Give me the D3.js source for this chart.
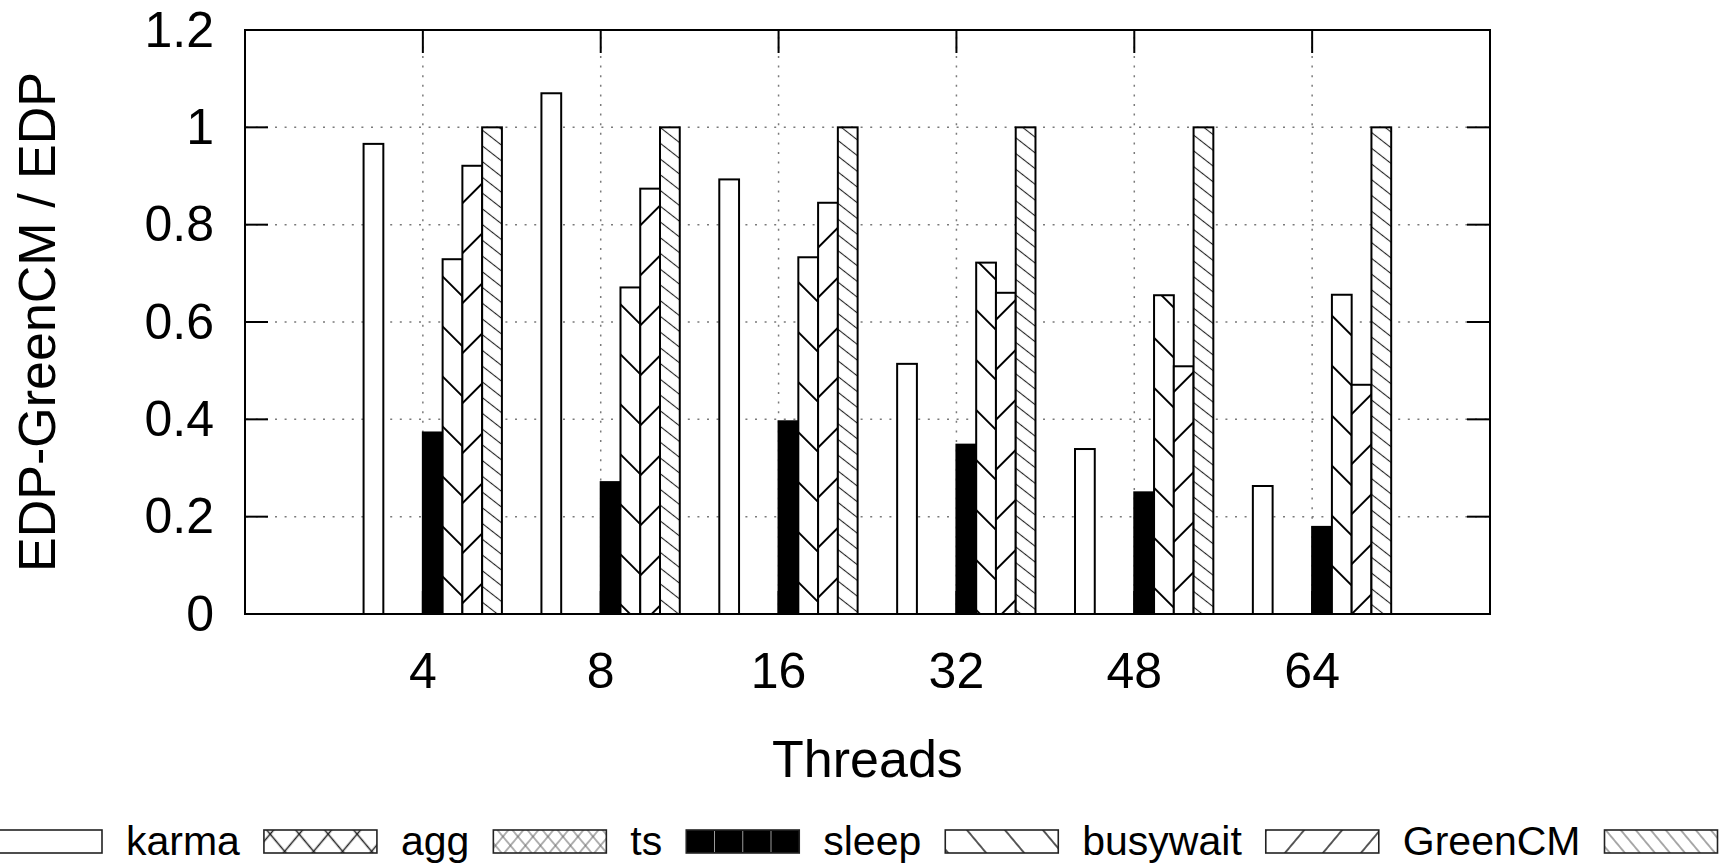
<!DOCTYPE html>
<html>
<head>
<meta charset="utf-8">
<script src="https://cdn.jsdelivr.net/npm/d3@7"></script>
<style>
  html, body { margin: 0; padding: 0; background: #fff; overflow: hidden; }
  svg { display: block; }
  text { font-family: "Liberation Sans", Arial, Helvetica, sans-serif; fill: #000; }
</style>
</head>
<body>
<svg id="chart" width="1724" height="865"></svg>
<script>
// ---- data ----------------------------------------------------------------
const threads = ["4", "8", "16", "32", "48", "64"];
const yTicks = [0, 0.2, 0.4, 0.6, 0.8, 1, 1.2];

// key text for each series, in cluster order (the first one's text sits left of the page edge)
const seriesLabels = [null, "karma", "agg", "ts", "sleep", "busywait", "GreenCM"];

// one array per series, values per thread count (null = no bar)
const firstSeries = [0.966, 1.070, 0.893, 0.514, 0.339, 0.263];
const karma       = [null, null, null, null, null, null];
const agg         = [null, null, null, null, null, null];
const ts          = [0.373, 0.271, 0.396, 0.348, 0.250, 0.179];
const sleep       = [0.729, 0.671, 0.733, 0.722, 0.655, 0.656];
const busywait    = [0.921, 0.874, 0.845, 0.660, 0.509, 0.471];
const greenCM     = [1.0, 1.0, 1.0, 1.0, 1.0, 1.0];

const seriesValues = [firstSeries, karma, agg, ts, sleep, busywait, greenCM];

// ---- layout --------------------------------------------------------------
const frame = { left: 245, right: 1490, top: 30, bottom: 614 };
const nSeries = seriesValues.length;
const slots = nSeries + 2;          // bars per cluster plus gap

const svg = d3.select("#chart");
const defs = svg.append("defs");

const x = d3.scaleLinear().domain([-1, threads.length]).range([frame.left, frame.right]);
const y = d3.scaleLinear().domain([0, 1.2]).range([frame.bottom, frame.top]);

// ---- hatch patterns --------------------------------------------------------
function hatch(id, angle, spacing, sw, color, offset) {
  const p = defs.append("pattern")
    .attr("id", id)
    .attr("patternUnits", "userSpaceOnUse")
    .attr("width", 20)
    .attr("height", spacing)
    .attr("y", offset - spacing / 2)
    .attr("patternTransform", `rotate(${angle})`);
  p.append("line")
    .attr("x1", -2).attr("x2", 22)
    .attr("y1", spacing / 2).attr("y2", spacing / 2)
    .attr("stroke", color).attr("stroke-width", sw);
}
// bar fills
hatch("barBack", 45, 35.36, 2, "#000", 24.0);
hatch("barFwd", -45, 35.36, 2, "#000", 11.0);
hatch("barBackFine", 38, 12.4, 1.1, "#222", 4);
hatch("barCrossA", 50, 22.2, 1.5, "#111", 18.4);
hatch("barCrossB", -50, 22.2, 1.5, "#111", 10.5);
hatch("barFineA", 50, 11.5, 1, "#555", 3);
hatch("barFineB", -50, 11.5, 1, "#555", 3);
// key sample fills
hatch("keyCrossA", 50, 22.2, 1.5, "#222", 18.4);
hatch("keyCrossB", -50, 22.2, 1.5, "#222", 10.5);
hatch("keyFineA", 50, 11.5, 1, "#666", 3);
hatch("keyFineB", -50, 11.5, 1, "#666", 3);
hatch("keyBack", 50, 29.1, 1.5, "#222", 25.6);
hatch("keyFwd", -50, 29.1, 1.5, "#222", 19.4);
hatch("keyBackFine", 50, 11.5, 1, "#555", 5);

// fill style per series: base colour + overlay patterns
const barStyles = [
  { base: "#fff", over: [] },
  { base: "#fff", over: ["barCrossA", "barCrossB"] },
  { base: "#fff", over: ["barFineA", "barFineB"] },
  { base: "#000", over: [] },
  { base: "#fff", over: ["barBack"] },
  { base: "#fff", over: ["barFwd"] },
  { base: "#fff", over: ["barBackFine"] }
];
const keyStyles = [
  { base: "#fff", over: [] },
  { base: "#fff", over: ["keyCrossA", "keyCrossB"] },
  { base: "#fff", over: ["keyFineA", "keyFineB"] },
  { base: "#000", over: [], dividers: true },
  { base: "#fff", over: ["keyBack"] },
  { base: "#fff", over: ["keyFwd"] },
  { base: "#fff", over: ["keyBackFine"] }
];

// ---- grid ------------------------------------------------------------------
const grid = svg.append("g").attr("stroke", "#7a7a7a").attr("stroke-width", 1.5)
  .attr("stroke-dasharray", "2,7.6");
grid.selectAll("line.h").data(yTicks.filter(v => v > 0 && v < 1.2)).join("line")
  .attr("class", "h")
  .attr("x1", frame.left).attr("x2", frame.right)
  .attr("y1", d => y(d)).attr("y2", d => y(d))
  .attr("stroke-dashoffset", -30);
grid.selectAll("line.v").data(threads).join("line")
  .attr("class", "v")
  .attr("x1", (d, i) => x(i)).attr("x2", (d, i) => x(i))
  .attr("y1", frame.bottom).attr("y2", frame.top)
  .attr("stroke-dashoffset", -28);

// ---- tick marks (inward, mirrored) ----------------------------------------
const tickLen = 23;
const ticks = svg.append("g").attr("stroke", "#000").attr("stroke-width", 2);
yTicks.forEach(v => {
  ticks.append("line").attr("x1", frame.left).attr("x2", frame.left + tickLen)
    .attr("y1", y(v)).attr("y2", y(v));
  ticks.append("line").attr("x1", frame.right).attr("x2", frame.right - tickLen)
    .attr("y1", y(v)).attr("y2", y(v));
});
threads.forEach((t, i) => {
  ticks.append("line").attr("x1", x(i)).attr("x2", x(i))
    .attr("y1", frame.bottom).attr("y2", frame.bottom - tickLen);
  ticks.append("line").attr("x1", x(i)).attr("x2", x(i))
    .attr("y1", frame.top).attr("y2", frame.top + tickLen);
});

// ---- bars ------------------------------------------------------------------
const bars = [];
seriesValues.forEach((vals, s) => {
  vals.forEach((v, i) => {
    if (v == null) return;
    bars.push({ s, i, v });
  });
});
const barG = svg.append("g");
bars.forEach(b => {
  const x0 = x(b.i + (b.s - 3) / slots);
  const x1 = x(b.i + (b.s - 2) / slots);
  const st = barStyles[b.s];
  const g = barG.append("g");
  g.append("rect").attr("x", x0).attr("y", y(b.v))
    .attr("width", x1 - x0).attr("height", y(0) - y(b.v))
    .attr("fill", st.base);
  st.over.forEach(pid => {
    g.append("rect").attr("x", x0).attr("y", y(b.v))
      .attr("width", x1 - x0).attr("height", y(0) - y(b.v))
      .attr("fill", `url(#${pid})`);
  });
  g.append("rect").attr("x", x0).attr("y", y(b.v))
    .attr("width", x1 - x0).attr("height", y(0) - y(b.v))
    .attr("fill", "none").attr("stroke", "#000").attr("stroke-width", 2);
});

// ---- frame -----------------------------------------------------------------
svg.append("rect")
  .attr("x", frame.left).attr("y", frame.top)
  .attr("width", frame.right - frame.left).attr("height", frame.bottom - frame.top)
  .attr("fill", "none").attr("stroke", "#000").attr("stroke-width", 2);

// ---- tick labels -------------------------------------------------------------
const fmt = v => (v === 0 || v === 1) ? String(v) : d3.format(".1f")(v);
svg.append("g").selectAll("text").data(yTicks).join("text")
  .attr("x", 214).attr("y", d => y(d) + 16.5)
  .attr("text-anchor", "end")
  .style("font-size", "50px")
  .text(fmt);

svg.append("g").selectAll("text").data(threads).join("text")
  .attr("x", (d, i) => x(i)).attr("y", 688)
  .attr("text-anchor", "middle")
  .style("font-size", "50px")
  .text(d => d);

// ---- axis titles -------------------------------------------------------------
svg.append("text")
  .attr("x", (frame.left + frame.right) / 2).attr("y", 777)
  .attr("text-anchor", "middle")
  .style("font-size", "52px")
  .text("Threads");

svg.append("text")
  .attr("transform", `translate(55,${(frame.top + frame.bottom) / 2}) rotate(-90)`)
  .attr("text-anchor", "middle")
  .style("font-size", "52px")
  .text("EDP-GreenCM / EDP");

// ---- key -------------------------------------------------------------------
const key = svg.append("g");
const boxW = 113, boxTop = 830, boxH = 23, gap = 24, keyBaseline = 855;
let cursor = -11;
seriesLabels.forEach((label, s) => {
  if (label) {
    const t = key.append("text")
      .attr("x", cursor).attr("y", keyBaseline)
      .style("font-size", "41px")
      .text(label);
    cursor += t.node().getComputedTextLength() + gap;
  }
  const st = keyStyles[s];
  key.append("rect").attr("x", cursor).attr("y", boxTop)
    .attr("width", boxW).attr("height", boxH).attr("fill", st.base);
  st.over.forEach(pid => {
    key.append("rect").attr("x", cursor).attr("y", boxTop)
      .attr("width", boxW).attr("height", boxH).attr("fill", `url(#${pid})`);
  });
  if (st.dividers) {
    [1, 2, 3].forEach(q => {
      key.append("line")
        .attr("x1", cursor + boxW * q / 4).attr("x2", cursor + boxW * q / 4)
        .attr("y1", boxTop + 1).attr("y2", boxTop + boxH - 1)
        .attr("stroke", "#9a9a9a").attr("stroke-width", 1);
    });
  }
  key.append("rect").attr("x", cursor).attr("y", boxTop)
    .attr("width", boxW).attr("height", boxH)
    .attr("fill", "none").attr("stroke", "#222").attr("stroke-width", 1.6);
  cursor += boxW + gap;
});
</script>
</body>
</html>
